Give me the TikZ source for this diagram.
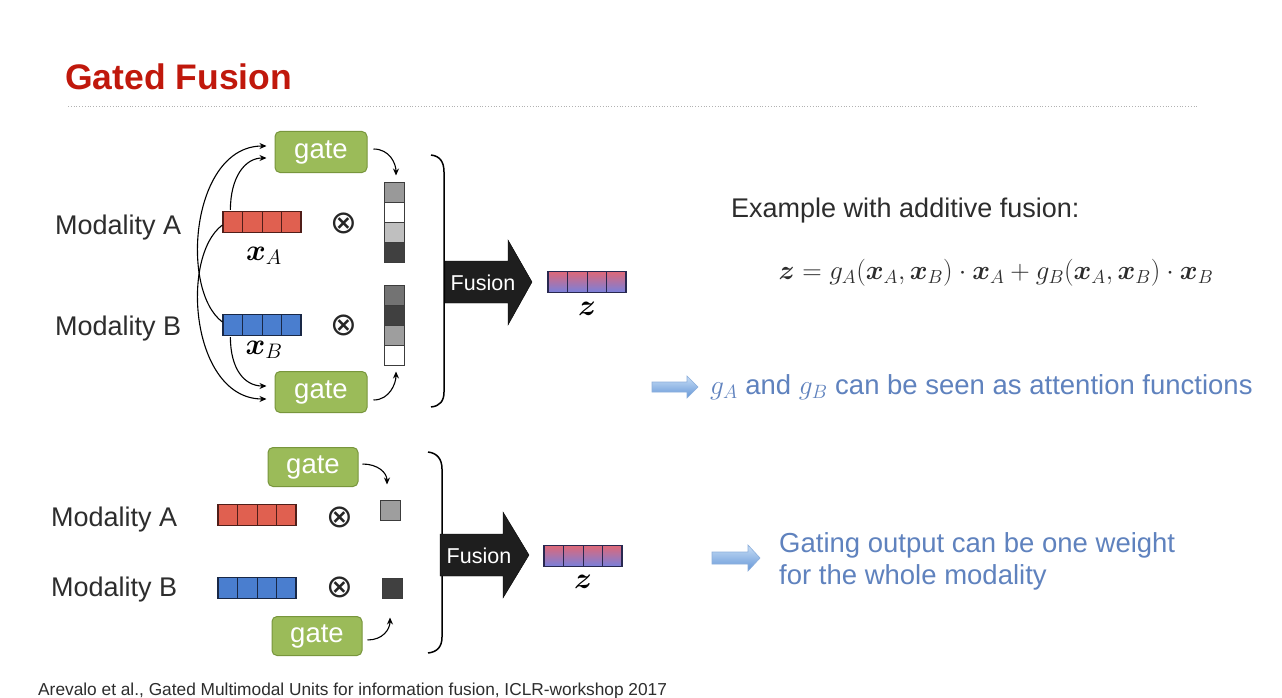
\RequirePackage{fix-cm}
\documentclass[tikz,border=0pt]{standalone}
\usepackage{amsmath,bm}
\usepackage{fontspec}
\setmainfont{Liberation Sans}
\newfontfamily\symfnt{DejaVu Sans}
\usetikzlibrary{calc,arrows.meta}
\definecolor{titlered}{RGB}{192,24,12}
\definecolor{gatefill}{RGB}{155,187,89}
\definecolor{gateborder}{RGB}{120,150,60}
\definecolor{vred}{RGB}{224,96,80}
\definecolor{vredline}{RGB}{80,30,25}
\definecolor{vblue}{RGB}{74,126,207}
\definecolor{vblueline}{RGB}{25,40,70}
\definecolor{zred}{RGB}{222,104,120}
\definecolor{zblue}{RGB}{120,128,220}
\definecolor{zline}{RGB}{40,40,80}
\definecolor{cellline}{RGB}{60,60,60}
\definecolor{txtgray}{RGB}{45,45,45}
\definecolor{noteblue}{RGB}{95,130,190}
\definecolor{arrlight}{RGB}{200,222,246}
\definecolor{arrdark}{RGB}{100,150,215}
\definecolor{arrline}{RGB}{140,175,220}
\definecolor{fusionfill}{RGB}{30,30,30}
\begin{document}
\begin{tikzpicture}[x=1pt,y=-1pt,
  txt/.style={inner sep=0pt, text=txtgray, font=\fontsize{27}{32}\selectfont},
  gatebox/.style={draw=gateborder, fill=gatefill, rounded corners=5pt, line width=1pt,
    minimum width=92pt, minimum height=41pt, inner sep=0pt, text=white,
    font=\fontsize{27.5}{30}\selectfont},
  vec/.style={draw=#1, line width=1.2pt, minimum width=78pt, minimum height=21pt, inner sep=0pt,
    path picture={\foreach \i in {1,2,3}{\draw[#1, line width=1pt]
      ($(path picture bounding box.south west)!\i/4!(path picture bounding box.south east)$) --
      ($(path picture bounding box.north west)!\i/4!(path picture bounding box.north east)$);}}},
  cell/.style={draw=cellline, line width=1pt, minimum size=20pt, inner sep=0pt, fill=#1},
  arr/.style={-{Stealth[length=7pt,width=6pt]}, line width=1.1pt, black},
  otim/.style={inner sep=0pt, text=black!85, font=\symfnt\fontsize{32}{32}\selectfont},
  lbl/.style={inner sep=0pt, font=\fontsize{30}{30}\selectfont},
  fusionarrow/.style={fill=fusionfill, draw=black},
  fusiontxt/.style={inner sep=0pt, text=white, font=\fontsize{21.5}{22}\selectfont},
  bracket/.style={line width=1.5pt, black},
  lightarrow/.style={top color=arrlight, bottom color=arrdark, draw=arrline, line width=0.6pt},
  note/.style={inner sep=0pt, text=noteblue, font=\fontsize{27.5}{32}\selectfont, align=left}
]
\useasboundingbox (0,0) rectangle (1282,698);
\fill[white] (0,0) rectangle (1282,698);

% title
\node[anchor=base west, inner sep=0pt, text=titlered, font=\fontsize{35.5}{36}\selectfont\bfseries] (title) at (65,90) {Gated Fusion};
\draw[gray!60, line width=0.8pt, dotted] (68,106) -- (1197,106);

% ================= top section =================
\node[txt, anchor=west] (ma) at (55,228) {Modality A};
\node[txt, anchor=west] (mb) at (55,329) {Modality B};

\node[gatebox] (gA) at (321,152) {gate};
\node[gatebox] (gB) at (321,392) {gate};

\node[vec=vredline, fill=vred] (xa) at (262,222) {};
\node[vec=vblueline, fill=vblue] (xb) at (262,325) {};
\node[lbl] (xal) at (264,256) {$\bm{x}_A$};
\node[lbl] (xbl) at (264,350) {$\bm{x}_B$};

\node[otim] (oa) at (344,223) {⊗};
\node[otim] (ob) at (344,325) {⊗};

\node[cell=black!40] (ca1) at (394,192) {};
\node[cell=white] (ca2) at (394,212) {};
\node[cell=black!25] (ca3) at (394,232) {};
\node[cell=black!75] (ca4) at (394,252) {};
\node[cell=black!55] (cb1) at (394,295) {};
\node[cell=black!75] (cb2) at (394,315) {};
\node[cell=black!38] (cb3) at (394,335) {};
\node[cell=white] (cb4) at (394,355) {};

% input arrows
\draw[arr] ($(xa.north west)+(8,-1)$) .. controls +(0,-32) and +(-22,0) .. ($(gA.west)+(-8,6)$);
\draw[arr] ($(xb.west)+(0,-3)$) .. controls +(-43,-32) and +(-75,0) .. ($(gA.west)+(-8,-6)$);
\draw[arr] ($(xa.west)+(0,3)$) .. controls +(-43,32) and +(-75,0) .. ($(gB.west)+(-8,7)$);
\draw[arr] ($(xb.south west)+(8,1)$) .. controls +(0,32) and +(-22,0) .. ($(gB.west)+(-8,-6)$);
% gate outputs
\draw[arr] ($(gA.east)+(6,-3)$) .. controls +(16,0) and +(0,-12) .. ($(ca1.north)+(2,-6)$);
\draw[arr] ($(gB.east)+(6,8)$) .. controls +(16,0) and +(0,12) .. ($(cb4.south)+(2,6)$);

% bracket
\draw[bracket] (431,155) .. controls (440,156) and (444,162) .. (444,172) -- (444,392) .. controls (444,401) and (440,406) .. (431,407);

% fusion arrow
\path[fusionarrow] (445,261) -- (508,261) -- (508,240) -- (532,282) -- (508,325) -- (508,303) -- (445,303) -- cycle;
\node[fusiontxt] (f1) at (483,283) {Fusion};

\node[vec=zline, top color=zred, bottom color=zblue] (z1) at (587,282) {};
\node[lbl] (z1l) at (587,309) {$\bm{z}$};

% right text
\node[txt, anchor=west] (ex) at (731,211) {Example with additive fusion:};
\node[inner sep=0pt, text=txtgray, font=\fontsize{27}{27}\selectfont] (eq) at (996,273)
  {$\bm{z} = g_A(\bm{x}_A,\bm{x}_B)\cdot\bm{x}_A + g_B(\bm{x}_A,\bm{x}_B)\cdot\bm{x}_B$};

\path[lightarrow] (652,382) -- (687,382) -- (687,376) -- (698,387) -- (687,398) -- (687,392) -- (652,392) -- cycle;
\node[note, anchor=west] (n1) at (710,387) {$g_A$ and $g_B$ can be seen as attention functions};

% ================= bottom section =================
\node[txt, anchor=west] (ma2) at (51,520) {Modality A};
\node[txt, anchor=west] (mb2) at (51,590) {Modality B};

\node[gatebox, minimum width=90pt, minimum height=39pt] (gA2) at (313,467) {gate};
\node[gatebox, minimum width=90pt, minimum height=39pt] (gB2) at (317,636) {gate};

\node[vec=vredline, fill=vred] (xa2) at (257,515) {};
\node[vec=vblueline, fill=vblue] (xb2) at (257,588) {};

\node[otim] (oa2) at (340,517) {⊗};
\node[otim] (ob2) at (340,587) {⊗};

\node[cell=black!38] (sa) at (390,510) {};
\node[cell=black!75] (sb) at (392,588) {};

\draw[arr] ($(gA2.east)+(4,-3)$) .. controls +(15,0) and +(0,-12) .. ($(sa.north)+(-3,-15)$);
\draw[arr] ($(gB2.east)+(5,4)$) .. controls +(15,0) and +(0,12) .. ($(sb.south)+(-2,19)$);

\draw[bracket] (428,452) .. controls (437,453) and (442,459) .. (442,469) -- (442,637) .. controls (442,647) and (437,652) .. (428,653);

\path[fusionarrow] (440,534) -- (503,534) -- (503,512) -- (529,555) -- (503,598) -- (503,576) -- (440,576) -- cycle;
\node[fusiontxt] (f2) at (479,556) {Fusion};

\node[vec=zline, top color=zred, bottom color=zblue] (z2) at (583,556) {};
\node[lbl] (z2l) at (583,582) {$\bm{z}$};

\path[lightarrow] (712,552) -- (748,552) -- (748,545) -- (760,558) -- (748,571) -- (748,564) -- (712,564) -- cycle;
\node[note, anchor=west] (n2) at (779,561) {Gating output can be one weight\\for the whole modality};

% footer
\node[anchor=base west, inner sep=0pt, text=txtgray, font=\fontsize{17.3}{18}\selectfont] (foot) at (38,695) {Arevalo et al., Gated Multimodal Units for information fusion, ICLR-workshop 2017};
\end{tikzpicture}
\end{document}
